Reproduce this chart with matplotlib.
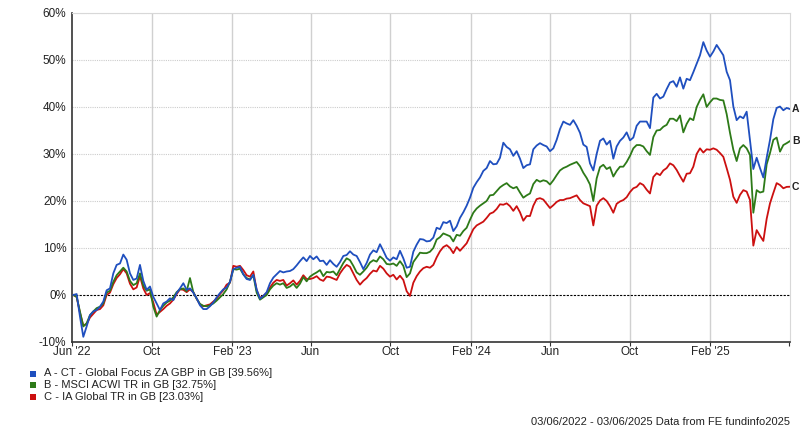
import matplotlib
matplotlib.use("Agg")
from matplotlib import pyplot as plt
from matplotlib.patches import Rectangle
import pandas as pd

plt.rcParams["font.family"] = ["Liberation Sans", "DejaVu Sans"]

# cumulative total return (%), roughly every 5 days
fund_a = [
    0.0, 0.2, -4.6, -8.9, -6.7, -4.3, -3.5, -3.2, -2.5, -1.4,
    1.0, 1.4, 4.6, 6.4, 6.7, 8.6, 7.5, 4.6, 3.2, 3.5,
    6.4, 3.0, 1.1, 1.8, -0.4, -1.8, -3.2, -1.8, -1.4, -0.7,
    -1.1, 0.4, 1.4, 2.5, 1.1, 1.4, 0.5, -0.7, -2.2, -3.0,
    -3.0, -2.4, -1.6, -0.5, 0.4, 1.2, 1.6, 2.8, 5.5, 5.8,
    6.0, 4.4, 3.4, 3.2, 4.3, 1.2, -0.8, -0.2, 0.6, 2.5,
    3.7, 4.4, 5.1, 4.8, 5.0, 5.1, 5.5, 6.3, 7.2, 8.0,
    7.2, 8.3, 7.6, 8.2, 7.2, 7.3, 6.4, 7.4, 6.6, 6.0,
    7.0, 8.3, 8.5, 9.3, 8.6, 8.3, 7.0, 5.5, 6.8, 8.6,
    9.5, 9.1, 10.8, 9.4, 7.9, 7.3, 8.0, 7.6, 9.4, 7.8,
    5.8, 6.0, 9.2, 10.7, 11.9, 11.8, 11.4, 11.5, 12.2, 14.3,
    14.0, 15.5, 15.3, 15.8, 13.6, 14.6, 16.4, 17.6, 19.0, 20.7,
    22.8, 24.0, 25.0, 26.4, 27.0, 28.5, 27.8, 27.9, 29.2, 32.4,
    31.5, 31.0, 29.6, 30.6, 29.0, 27.0, 27.6, 27.8, 31.0, 31.8,
    32.3, 31.9, 31.6, 30.6, 31.2, 33.0, 35.3, 36.9, 36.5, 36.2,
    37.2, 36.0, 34.5, 32.0, 31.5, 28.0, 26.5, 30.0, 32.8, 33.3,
    32.0, 32.8, 29.0, 31.6, 32.8, 33.5, 34.6, 32.9, 33.5, 36.0,
    36.9, 36.9, 36.9, 35.5, 42.0, 42.8, 41.8, 42.2, 43.8, 45.2,
    45.5, 44.3, 46.3, 43.9, 46.0, 45.7, 47.4, 49.2, 51.0, 53.8,
    52.0, 50.7, 51.8, 53.2, 52.1, 51.0, 47.5, 45.7, 40.1, 37.2,
    38.0, 37.6, 39.0, 33.0, 26.8, 29.2, 27.0, 25.0, 29.2, 33.0,
    37.4, 39.8, 40.1, 39.3, 39.8, 39.56,
]
index_b = [
    0.0, -0.4, -3.5, -6.7, -6.0, -4.3, -3.5, -2.8, -2.5, -1.8,
    0.5, 0.9, 2.8, 4.2, 5.0, 5.8, 5.0, 3.0, 2.1, 2.5,
    4.6, 2.0, 0.9, 1.2, -2.5, -4.6, -3.2, -2.3, -1.6, -1.2,
    -0.5, 0.6, 1.2, 1.4, 0.8, 3.6, 0.6, -0.8, -1.9, -2.3,
    -2.4, -2.2, -1.8, -1.2, -0.5, 0.2, 1.2, 2.8, 5.5, 5.4,
    5.6, 4.4, 3.6, 3.3, 4.2, 0.5, -1.0, -0.5, 0.0, 1.2,
    2.0, 2.5, 2.2, 2.5, 1.5, 1.8, 2.4, 1.5, 2.4, 3.8,
    2.9, 3.9, 4.4, 4.8, 5.3, 4.0, 4.9, 4.8, 5.0, 4.2,
    5.5, 6.8, 7.8, 7.4, 6.2, 4.8, 4.3, 5.0, 5.8, 6.9,
    7.4, 7.1, 8.2, 7.6, 6.6, 6.5, 6.7, 6.2, 7.2, 6.2,
    3.8, 4.6, 7.0, 8.0, 9.0, 8.9, 8.9, 9.2, 10.0, 11.8,
    12.3, 13.1, 12.8, 12.5, 11.4, 12.8, 12.6, 13.6, 14.3, 16.0,
    17.5, 18.4, 19.0, 19.5, 20.0, 21.2, 21.3, 22.1, 22.9, 23.4,
    23.8, 23.1, 22.7, 23.0, 21.8, 20.7, 21.2, 21.6, 23.6, 24.5,
    24.1, 24.4, 24.2, 23.5, 24.4, 25.5, 26.5, 27.0, 27.3, 27.7,
    28.0, 28.3, 27.4, 26.0, 24.9, 23.5, 20.0, 24.8, 27.2, 27.7,
    26.8, 27.2, 25.2, 26.4, 27.3, 27.3, 28.3, 29.6, 31.2, 31.9,
    31.9, 31.6, 30.6, 29.8, 33.6, 35.0, 35.1, 35.8, 36.2, 37.5,
    37.5, 37.0, 38.2, 34.6, 36.4, 37.6, 37.2, 40.0, 41.5, 42.7,
    40.0, 41.0, 41.8, 41.8, 41.5, 41.4, 38.5, 34.5, 30.9, 28.5,
    31.2, 31.9, 31.2, 29.8, 17.5, 22.3, 21.8, 22.0, 27.8, 30.2,
    33.0, 33.5, 30.5, 31.9, 32.3, 32.75,
]
sector_c = [
    0.0, -0.4, -3.8, -6.5, -6.2, -4.8, -4.0, -3.2, -3.0, -2.2,
    0.0, 0.5, 2.3, 3.6, 4.4, 5.5, 4.6, 2.4, 1.2, 1.6,
    4.0, 1.4, 0.0, 0.4, -1.6, -4.2, -3.6, -3.0, -2.3, -1.8,
    -1.0, 0.2, 1.2, 1.1, 0.6, 1.2, 0.6, -0.8, -2.0, -2.4,
    -2.2, -2.0, -1.4, -0.8, 0.2, 1.0, 2.2, 2.6, 6.2, 6.0,
    6.2, 5.3, 4.2, 3.9, 5.0, 1.0, -0.6, -0.2, 0.4, 1.6,
    2.6, 3.2, 3.0, 3.2, 2.0, 2.5, 3.1, 2.2, 3.0, 4.2,
    3.4, 3.4, 3.6, 4.0, 3.3, 3.0, 3.9, 3.8, 3.5, 3.2,
    4.6, 5.6, 6.4, 6.0, 4.6, 3.2, 2.2, 3.0, 3.6, 4.5,
    5.2, 5.0, 6.2, 5.6, 4.6, 3.9, 4.3, 3.3, 4.1, 3.2,
    0.8, -0.2, 2.6, 4.0, 5.0, 5.7, 6.0, 5.8, 6.4, 8.0,
    9.3, 10.2, 10.6, 10.0, 8.9, 10.2, 9.4, 10.2, 11.0, 12.5,
    14.0, 14.8, 15.2, 15.6, 16.4, 17.3, 17.6, 18.3, 19.3, 19.2,
    19.5, 18.9, 17.9, 18.9, 17.6, 15.8, 16.8, 16.8, 19.0, 20.4,
    20.6, 20.3, 19.4, 18.5, 19.1, 19.8, 20.2, 20.2, 20.5, 20.6,
    20.9, 21.2, 20.2, 19.5, 19.2, 18.9, 14.8, 19.0, 20.1, 20.6,
    20.0, 18.9, 17.5, 19.4, 19.9, 20.2, 20.8, 21.9, 22.7, 23.0,
    23.8, 23.4, 22.4, 21.6, 25.1, 25.9, 25.5, 26.5, 27.0, 28.0,
    27.6, 26.6, 25.3, 24.1, 25.8, 25.9, 27.3, 30.0, 31.2, 30.3,
    31.0, 30.9, 31.2, 30.9, 30.2, 29.4, 27.0, 24.5, 20.9, 19.6,
    21.3, 22.3, 22.0, 20.2, 10.5, 13.8, 12.6, 11.5, 16.2, 19.5,
    21.7, 23.8, 23.4, 22.7, 23.0, 23.03,
]

legend_labels = [
    "A - CT - Global Focus ZA GBP in GB [39.56%]",
    "B - MSCI ACWI TR in GB [32.75%]",
    "C - IA Global TR in GB [23.03%]",
]
end_letters = ["A", "B", "C"]
colors = ["#1f4fbf", "#2d7a18", "#cc1010"]
tick_labels = ["Jun '22", "Oct", "Feb '23", "Jun", "Oct", "Feb '24", "Jun", "Oct", "Feb '25", ""]

dates = pd.date_range("2022-06-03", "2025-06-03", periods=len(fund_a))
series = [fund_a, index_b, sector_c]

fig = plt.figure(figsize=(8, 4.3), dpi=100)
ax = fig.add_axes([0.09, 0.2047, 0.8975, 0.7651])

# red below green below blue
for vals, col in reversed(list(zip(series, colors))):
    ax.plot(dates, vals, color=col, lw=1.3, zorder=3)

ax.axhline(0, color="black", lw=0.8, linestyle=(0, (2, 1.2)), zorder=2)

ax.set_xlim(pd.Timestamp("2022-06-01"), pd.Timestamp("2025-06-03"))
ax.set_ylim(-10, 60)

ticks = pd.date_range("2022-06-01", "2025-06-01", freq="4MS")
ax.set_xticks(ticks)
ax.set_xticklabels(tick_labels, fontsize=8.5)
ax.set_yticks(range(-10, 61, 10))
ax.set_yticklabels([f"{v}%" for v in range(-10, 61, 10)], fontsize=8.5)
ax.tick_params(axis="x", length=3, pad=0, color="#333333", labelcolor="#222222")
ax.tick_params(axis="y", length=0, pad=4, labelcolor="#222222")

for t in ticks[1:-1]:
    ax.axvline(t, color="#d0d0d0", lw=1, zorder=1)
for v in range(10, 61, 10):
    ax.axhline(v, color="#cccccc", lw=0.8, linestyle=(0, (1, 1)), zorder=1)

for side in ["top", "right"]:
    ax.spines[side].set_color("#d8d8d8")
for side in ["left", "bottom"]:
    ax.spines[side].set_color("#333333")
    ax.spines[side].set_linewidth(1.2)

# letter tags at the right end of each line
for vals, letter in zip(series, end_letters):
    ax.annotate(letter, xy=(dates[-1], vals[-1]), xytext=(1.5, 0), textcoords="offset points",
                va="center", ha="left", fontsize=7.5, fontweight="bold", color="#222222",
                annotation_clip=False)

# legend drawn by hand below the plot
for i, (lab, col) in enumerate(zip(legend_labels, colors)):
    y = 1 - (373.5 + i * 11.5) / 430
    fig.patches.append(Rectangle((30 / 800, y - 3 / 430), 6 / 800, 6 / 430,
                                 transform=fig.transFigure, facecolor=col, edgecolor="none"))
    fig.text(44 / 800, y, lab, fontsize=8, va="center", ha="left", color="#222222")

fig.text(790 / 800, 1 - 422 / 430, "03/06/2022 - 03/06/2025 Data from FE fundinfo2025",
         fontsize=8, ha="right", va="center", color="#222222")

fig.savefig("out.png", dpi=100)
